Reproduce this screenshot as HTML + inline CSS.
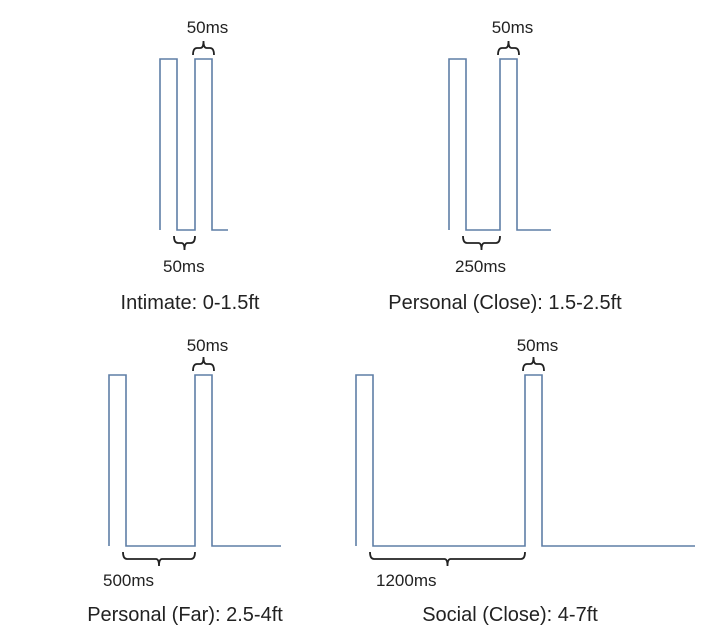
<!DOCTYPE html>
<html><head><meta charset="utf-8"><style>
html,body{margin:0;padding:0;background:#fff;}
svg{display:block;}
text{font-family:"Liberation Sans",sans-serif;fill:#222;}
</style></head><body>
<svg id="chart" width="706" height="636" viewBox="0 0 706 636" xmlns="http://www.w3.org/2000/svg"></svg>
<script>
// data
const zoneNames = ["Intimate: 0-1.5ft","Personal (Close): 1.5-2.5ft","Personal (Far): 2.5-4ft","Social (Close): 4-7ft"];
const gapMs = [50, 250, 500, 1200];
const pulseMs = [50, 50, 50, 50];
const gapLabels = ["50ms","250ms","500ms","1200ms"];
const pulseLabels = ["50ms","50ms","50ms","50ms"];

// layout (per panel)
const panels = [
  {x0:160, top:59, bot:230, pxPerGapMs:18/50, pulsePx:17, tail:16, titleX:190, titleY:309, gapLabelX:163, gapLabelY:272, pulseLabelY:33},
  {x0:449, top:59, bot:230, pxPerGapMs:34/250, pulsePx:17, tail:34, titleX:505, titleY:309, gapLabelX:455, gapLabelY:272, pulseLabelY:33},
  {x0:109, top:375, bot:546, pxPerGapMs:69/500, pulsePx:17, tail:69, titleX:185, titleY:621, gapLabelX:103, gapLabelY:586, pulseLabelY:351},
  {x0:356, top:375, bot:546, pxPerGapMs:152/1200, pulsePx:17, tail:153, titleX:510, titleY:621, gapLabelX:376, gapLabelY:586, pulseLabelY:351}
];
const NS = "http://www.w3.org/2000/svg";
const svg = document.getElementById('chart');
function mk(tag, attrs){const e=document.createElementNS(NS,tag);for(const k in attrs)e.setAttribute(k,attrs[k]);return e;}
function brace(x1,x2,y,dir){
  const h=7*dir, m=(x1+x2)/2;
  return `M${x1},${y+h} Q${x1},${y} ${x1+4},${y} L${m-3},${y} Q${m},${y} ${m},${y-h} Q${m},${y} ${m+3},${y} L${x2-4},${y} Q${x2},${y} ${x2},${y+h}`;
}
zoneNames.forEach((name,i)=>{
  const p=panels[i];
  const g=mk('g',{});
  
  
  const pw=pulseMs[i]/50*p.pulsePx;
  const gw=gapMs[i]*p.pxPerGapMs;
  const a=p.x0, b=a+pw, c=b+gw, d=c+pw, e=d+p.tail;
  const wave=mk('path',{d:`M${a},${p.bot} L${a},${p.top} L${b},${p.top} L${b},${p.bot} L${c},${p.bot} L${c},${p.top} L${d},${p.top} L${d},${p.bot} L${e},${p.bot}`,fill:'none',stroke:'#5f7ea6','stroke-width':1.6});
  
  
  g.appendChild(wave);
  const tb=mk('path',{d:brace(c-2,d+2,p.top-11,1),fill:'none',stroke:'#222','stroke-width':1.8});
  
  
  g.appendChild(tb);
  const tl=mk('text',{x:(c+d)/2+4,y:p.pulseLabelY,'text-anchor':'middle','font-size':17});
  tl.textContent=pulseLabels[i];
  
  
  g.appendChild(tl);
  const bb=mk('path',{d:brace(b-3,c,p.bot+13,-1),fill:'none',stroke:'#222','stroke-width':1.8});
  
  
  g.appendChild(bb);
  const bl=mk('text',{x:p.gapLabelX,y:p.gapLabelY,'font-size':17});
  bl.textContent=gapLabels[i];
  
  
  g.appendChild(bl);
  const t=mk('text',{x:p.titleX,y:p.titleY,'text-anchor':'middle','font-size':20});
  t.textContent=name;
  
  
  g.appendChild(t);
  svg.appendChild(g);
});
</script>
</body></html>
